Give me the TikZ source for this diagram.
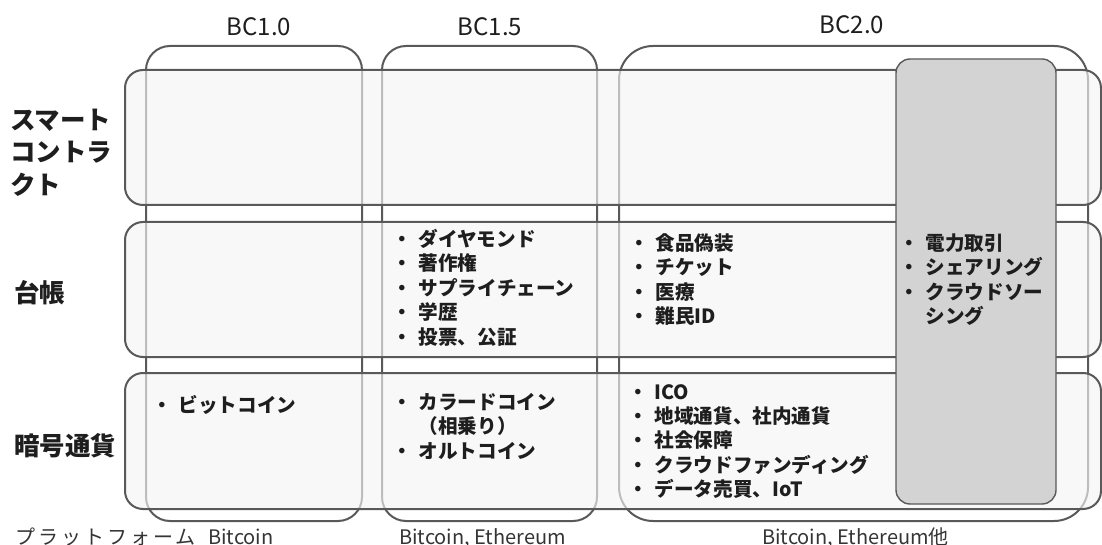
\documentclass[tikz,border=0pt]{standalone}
\usepackage{fontspec}
\setmainfont{Noto Sans CJK JP}
\definecolor{lineC}{HTML}{595959}
\definecolor{rowfill}{HTML}{F4F4F4}
\definecolor{grayfill}{HTML}{D3D3D3}
\definecolor{txt}{HTML}{1E1E1E}
\newcommand{\bitem}[1]{\makebox[26pt][l]{・}#1}
\tikzset{
  colbox/.style={draw=lineC, line width=2pt, rounded corners=24pt, inner sep=0pt},
  rowbox/.style={draw=lineC, line width=2pt, rounded corners=18pt, fill=rowfill, fill opacity=0.65, inner sep=0pt, minimum width=976pt},
  hibox/.style={draw=lineC, line width=1.4pt, rounded corners=14pt, fill=grayfill, inner sep=0pt},
  blist/.style={anchor=base west, inner sep=0pt, text width=260pt, align=left, text=txt, font=\fontsize{19.6}{24.4}\selectfont\bfseries},
  rowlabel/.style={anchor=base west, inner sep=0pt, text width=130pt, align=left, text=txt, font=\fontsize{25.5}{32.5}\selectfont\bfseries},
  collabel/.style={anchor=base, inner sep=0pt, text=txt, font=\fontsize{24}{28}\selectfont},
  platlabel/.style={anchor=base west, inner sep=0pt, text=txt!90, font=\fontsize{20}{24}\selectfont},
}
\begin{document}
\begin{tikzpicture}[x=1pt, y=-1pt]
\useasboundingbox (0,0) rectangle (1102,545);
% columns
\node[colbox, minimum width=216pt, minimum height=475pt] (c1) at (254,283.5) {};
\node[colbox, minimum width=215pt, minimum height=475pt] (c2) at (489.5,283.5) {};
\node[colbox, rounded corners=34pt, minimum width=469pt, minimum height=475pt] (c3) at (853.5,283.5) {};
% rows
\node[rowbox, minimum height=135pt] (r1) at (613,137.5) {};
\node[rowbox, minimum height=135pt] (r2) at (613,289.5) {};
\node[rowbox, minimum height=136pt] (r3) at (613,441) {};
% highlighted column
\node[hibox, minimum width=160pt, minimum height=445pt] (hl) at (976,281.5) {};
% column headers
\node[collabel] (h1) at (259,36) {BC1.0};
\node[collabel] (h2) at (490,36) {BC1.5};
\node[collabel] (h3) at (852,34) {BC2.0};
% row labels
\node[rowlabel] (l1) at (10,129.5) {スマート\\コントラ\\クト};
\node[rowlabel] (l2) at (14,302.5) {台帳};
\node[rowlabel] (l3) at (14,455.5) {暗号通貨};
% ledger row
\node[blist] (t22) at (392.5,246.5) {\bitem{ダイヤモンド}\\\bitem{著作権}\\\bitem{サプライチェーン}\\\bitem{学歴}\\\bitem{投票、公証}};
\node[blist] (t23) at (629.5,250.5) {\bitem{食品偽装}\\\bitem{チケット}\\\bitem{医療}\\\bitem{難民ID}};
\node[blist] (t24) at (899.5,250.5) {\bitem{電力取引}\\\bitem{シェアリング}\\\bitem{クラウドソー}\\\hspace*{26pt}シング};
% currency row
\node[blist] (t31) at (152.5,412) {\bitem{ビットコイン}};
\node[blist] (t32) at (392.5,409.5) {\bitem{カラードコイン}\\\hspace*{26pt}（相乗り）\\\bitem{オルトコイン}};
\node[blist] (t33) at (628.5,399) {\bitem{ICO}\\\bitem{地域通貨、社内通貨}\\\bitem{社会保障}\\\bitem{クラウドファンディング}\\\bitem{データ売買、IoT}};
% platform row
\node[platlabel] (p0) at (15,544) {\addfontfeature{LetterSpace=15}プラットフォーム};
\node[platlabel] (p1) at (208,544) {Bitcoin};
\node[platlabel] (p2) at (399,544) {Bitcoin, Ethereum};
\node[platlabel] (p3) at (762,544) {Bitcoin, Ethereum他};
\end{tikzpicture}
\end{document}
